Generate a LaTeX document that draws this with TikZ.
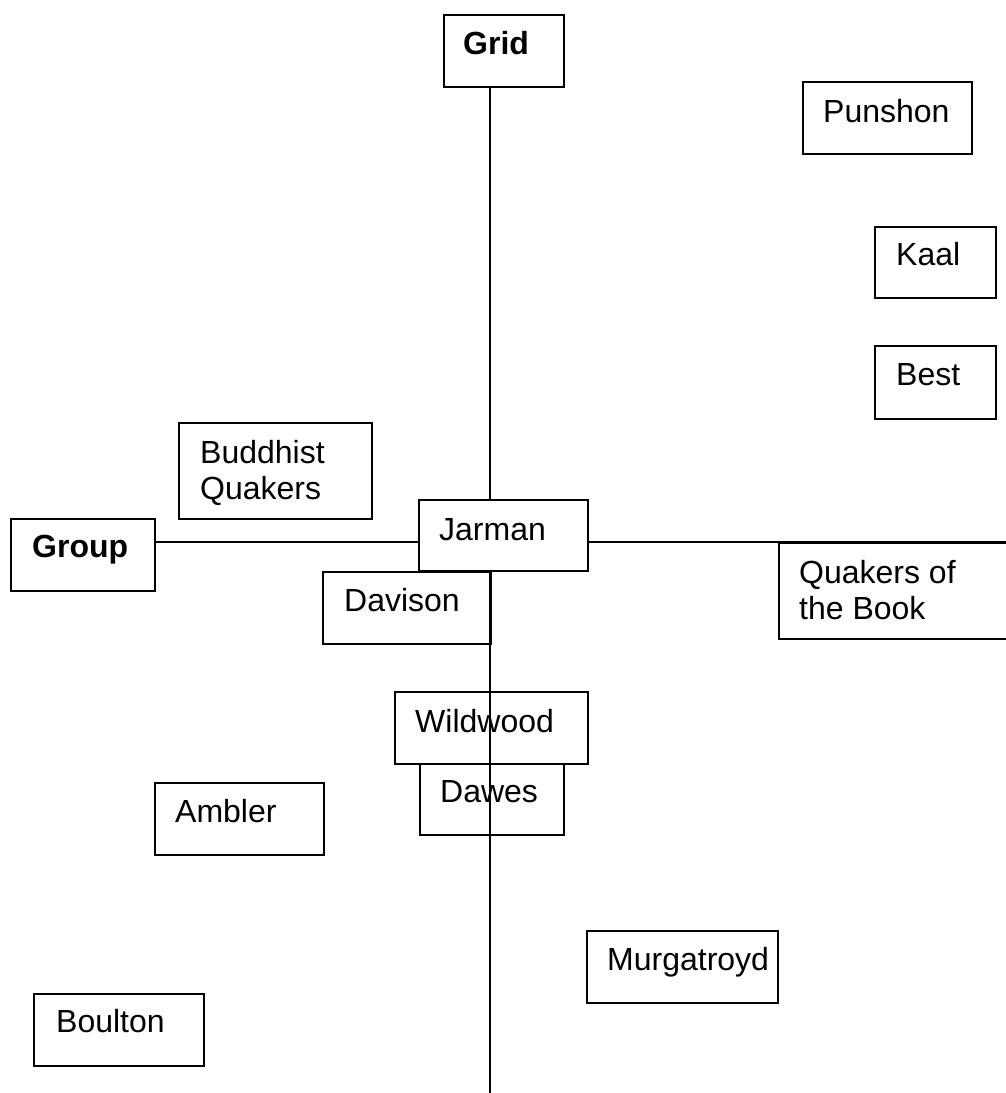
\documentclass[tikz,border=0pt]{standalone}
\usepackage{fontspec}
\setmainfont{Liberation Sans}
\usetikzlibrary{calc}
\tikzset{
  box/.style={draw=black, line width=1.6pt, inner sep=0pt, anchor=north west},
  lbl/.style={inner sep=0pt, anchor=base west, font=\fontsize{32}{36}\selectfont},
  axis/.style={draw=black, line width=1.6pt}
}
\newcommand{\twolines}[2]{\begin{tabular}[t]{@{}l@{}}#1\\#2\end{tabular}}
\begin{document}
\begin{tikzpicture}[x=1pt, y=-1pt]
  \clip (0,0) rectangle (1006,1093);
  \fill[white] (0,0) rectangle (1006,1093);

  % crossing point of the two axes
  \coordinate (ax) at (490,542);
  \coordinate (axbottom) at (490,1093);
  \coordinate (axright) at (1006,542);

  % boxes
  \node[box, minimum width=120pt, minimum height=72pt] (Grid) at (443,14) {};
  \node[box, minimum width=144pt, minimum height=72pt] (Group) at (10,518) {};
  \node[box, minimum width=169pt, minimum height=71pt, fill=white] (Jarman) at (418,499) {};
  \node[box, minimum width=168pt, minimum height=72pt] (Davison) at (322,571) {};
  \node[box, minimum width=193pt, minimum height=72pt] (Wildwood) at (394,691) {};
  \node[box, minimum width=144pt, minimum height=71pt] (Dawes) at (419,763) {};
  \node[box, minimum width=169pt, minimum height=72pt] (Punshon) at (802,81) {};
  \node[box, minimum width=121pt, minimum height=71pt] (Kaal) at (874,226) {};
  \node[box, minimum width=121pt, minimum height=73pt] (Best) at (874,345) {};
  \node[box, minimum width=193pt, minimum height=96pt] (Buddhist) at (178,422) {};
  \node[box, minimum width=240pt, minimum height=96pt] (Book) at (778,542) {};
  \node[box, minimum width=169pt, minimum height=72pt] (Ambler) at (154,782) {};
  \node[box, minimum width=191pt, minimum height=72pt] (Murgatroyd) at (586,930) {};
  \node[box, minimum width=170pt, minimum height=72pt] (Boulton) at (33,993) {};

  % axes
  \draw[axis] (Grid.south -| ax) -- (Jarman.north -| ax);
  \draw[axis] (Jarman.south -| ax) -- (axbottom);
  \draw[axis] (Group.east |- ax) -- (Jarman.west |- ax);
  \draw[axis] (Jarman.east |- ax) -- (axright);

  % labels
  \node[lbl, font=\fontsize{32}{36}\selectfont\bfseries] (Grid-t) at ($(Grid.north west)+(20,40)$) {Grid};
  \node[lbl, font=\fontsize{32}{36}\selectfont\bfseries] (Group-t) at ($(Group.north west)+(22,39)$) {Group};
  \node[lbl] (Jarman-t) at ($(Jarman.north west)+(21,41)$) {Jarman};
  \node[lbl] (Davison-t) at ($(Davison.north west)+(22,40)$) {Davison};
  \node[lbl] (Wildwood-t) at ($(Wildwood.north west)+(21,41)$) {Wildwood};
  \node[lbl] (Dawes-t) at ($(Dawes.north west)+(21,39)$) {Dawes};
  \node[lbl] (Punshon-t) at ($(Punshon.north west)+(21,41)$) {Punshon};
  \node[lbl] (Kaal-t) at ($(Kaal.north west)+(22,39)$) {Kaal};
  \node[lbl] (Best-t) at ($(Best.north west)+(22,40)$) {Best};
  \node[lbl] (Buddhist-t) at ($(Buddhist.north west)+(22,41)$) {\twolines{Buddhist}{Quakers}};
  \node[lbl] (Book-t) at ($(Book.north west)+(21,41)$) {\twolines{Quakers of}{the Book}};
  \node[lbl] (Ambler-t) at ($(Ambler.north west)+(21,40)$) {Ambler};
  \node[lbl] (Murgatroyd-t) at ($(Murgatroyd.north west)+(21,40)$) {Murgatroyd};
  \node[lbl] (Boulton-t) at ($(Boulton.north west)+(23,39)$) {Boulton};
\end{tikzpicture}
\end{document}
